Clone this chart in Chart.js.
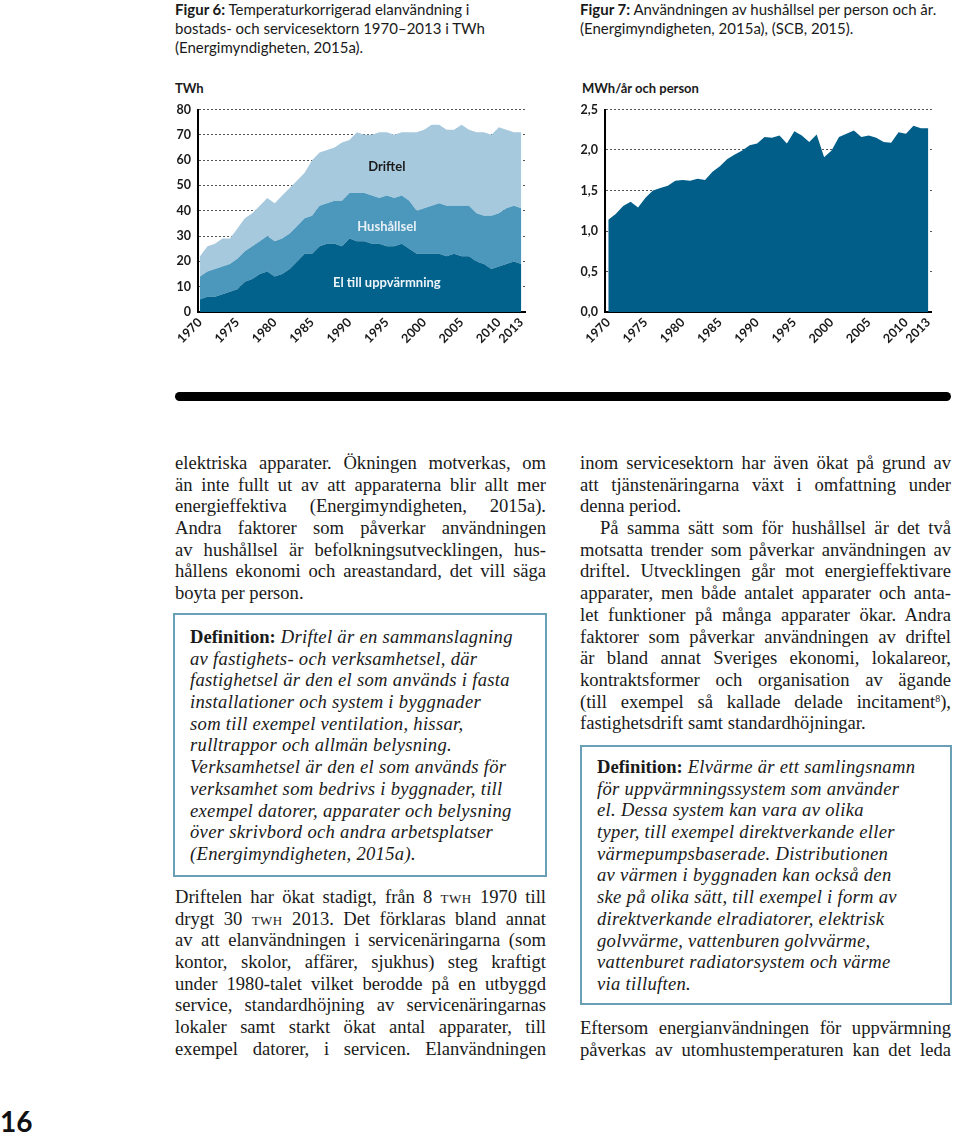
<!DOCTYPE html>
<html><head><meta charset="utf-8">
<script src="https://cdn.jsdelivr.net/npm/chart.js@4.4.1/dist/chart.umd.min.js"></script>
<style>
html,body{margin:0;padding:0;background:#fff;}
body{width:960px;height:1137px;position:relative;overflow:hidden;color:#1a1a1a;}
.abs{position:absolute;}
.cap{font-family:Lato,"Open Sans",sans-serif;font-size:15px;line-height:19px;color:#1a1a1a;}
.cap b{font-weight:700;}
.axt{font-family:Lato,sans-serif;font-weight:700;font-size:13px;color:#1a1a1a;}
.serif{font-family:"Liberation Serif","DejaVu Serif",serif;font-size:18.6px;color:#1a1a1a;}
.ln{height:21.7px;line-height:21.7px;white-space:nowrap;text-align:justify;text-align-last:justify;}
.ln.last{text-align-last:left;}
.ln.rag{text-align:left;text-align-last:left;}
.box{border:2px solid #6aa0b6;box-sizing:border-box;}
.box .ln{font-style:italic;letter-spacing:0.3px;}
.box b{font-style:normal;font-weight:700;letter-spacing:0;}
.sc{font-variant:all-small-caps;letter-spacing:0.5px;}
sup{font-size:10px;line-height:0;vertical-align:6px;}
</style></head>
<body>
<div class="abs cap" style="left:175px;top:0px;width:380px;"><b>Figur 6:</b> Temperaturkorrigerad elanvändning i<br>bostads- och servicesektorn 1970–2013 i TWh<br>(Energimyndigheten, 2015a).</div>
<div class="abs cap" style="left:580px;top:0px;width:380px;"><b>Figur 7:</b> Användningen av hushållsel per person och år.<br>(Energimyndigheten, 2015a), (SCB, 2015).</div>

<div class="abs axt" style="left:175px;top:80px;">TWh</div>
<div class="abs axt" style="left:582px;top:80px;">MWh/år och person</div>

<canvas id="c1" class="abs" width="375" height="265" style="left:160px;top:95px;"></canvas>
<canvas id="c2" class="abs" width="375" height="265" style="left:567px;top:95px;"></canvas>

<div class="abs" style="left:175px;top:392px;width:776px;height:9px;background:#000;border-radius:4.5px;"></div>

<div class="abs serif" style="left:175px;top:452px;width:371px;">
<div class="ln">elektriska apparater. Ökningen motverkas, om</div>
<div class="ln">än inte fullt ut av att apparaterna blir allt mer</div>
<div class="ln">energieffektiva (Energimyndigheten, 2015a).</div>
<div class="ln">Andra faktorer som påverkar användningen</div>
<div class="ln">av hushållsel är befolkningsutvecklingen, hus-</div>
<div class="ln">hållens ekonomi och areastandard, det vill säga</div>
<div class="ln last">boyta per person.</div>
</div>

<div class="abs serif box" style="left:173px;top:613px;width:374px;height:264px;padding:11px 0 0 15px;">
<div class="ln rag"><b>Definition:</b> Driftel är en sammanslagning</div>
<div class="ln rag">av fastighets- och verksamhetsel, där</div>
<div class="ln rag">fastighetsel är den el som används i fasta</div>
<div class="ln rag">installationer och system i byggnader</div>
<div class="ln rag">som till exempel ventilation, hissar,</div>
<div class="ln rag">rulltrappor och allmän belysning.</div>
<div class="ln rag">Verksamhetsel är den el som används för</div>
<div class="ln rag">verksamhet som bedrivs i byggnader, till</div>
<div class="ln rag">exempel datorer, apparater och belysning</div>
<div class="ln rag">över skrivbord och andra arbetsplatser</div>
<div class="ln rag">(Energimyndigheten, 2015a).</div>
</div>

<div class="abs serif" style="left:175px;top:886px;width:371px;">
<div class="ln">Driftelen har ökat stadigt, från 8 <span class="sc">TWh</span> 1970 till</div>
<div class="ln">drygt 30 <span class="sc">TWh</span> 2013. Det förklaras bland annat</div>
<div class="ln">av att elanvändningen i servicenäringarna (som</div>
<div class="ln">kontor, skolor, affärer, sjukhus) steg kraftigt</div>
<div class="ln">under 1980-talet vilket berodde på en utbyggd</div>
<div class="ln">service, standardhöjning av servicenäringarnas</div>
<div class="ln">lokaler samt starkt ökat antal apparater, till</div>
<div class="ln">exempel datorer, i servicen. Elanvändningen</div>
</div>

<div class="abs serif" style="left:580px;top:452px;width:371px;">
<div class="ln">inom servicesektorn har även ökat på grund av</div>
<div class="ln">att tjänstenäringarna växt i omfattning under</div>
<div class="ln last">denna period.</div>
<div class="ln" style="padding-left:20px;">På samma sätt som för hushållsel är det två</div>
<div class="ln">motsatta trender som påverkar användningen av</div>
<div class="ln">driftel. Utvecklingen går mot energieffektivare</div>
<div class="ln">apparater, men både antalet apparater och anta-</div>
<div class="ln">let funktioner på många apparater ökar. Andra</div>
<div class="ln">faktorer som påverkar användningen av driftel</div>
<div class="ln">är bland annat Sveriges ekonomi, lokalareor,</div>
<div class="ln">kontraktsformer och organisation av ägande</div>
<div class="ln">(till exempel så kallade delade incitament<sup>8</sup>),</div>
<div class="ln last">fastighetsdrift samt standardhöjningar.</div>
</div>

<div class="abs serif box" style="left:580px;top:745px;width:372px;height:260px;padding:9px 0 0 15px;">
<div class="ln rag"><b>Definition:</b> Elvärme är ett samlingsnamn</div>
<div class="ln rag">för uppvärmningssystem som använder</div>
<div class="ln rag">el. Dessa system kan vara av olika</div>
<div class="ln rag">typer, till exempel direktverkande eller</div>
<div class="ln rag">värmepumpsbaserade. Distributionen</div>
<div class="ln rag">av värmen i byggnaden kan också den</div>
<div class="ln rag">ske på olika sätt, till exempel i form av</div>
<div class="ln rag">direktverkande elradiatorer, elektrisk</div>
<div class="ln rag">golvvärme, vattenburen golvvärme,</div>
<div class="ln rag">vattenburet radiatorsystem och värme</div>
<div class="ln rag">via tilluften.</div>
</div>

<div class="abs serif" style="left:580px;top:1017px;width:371px;">
<div class="ln">Eftersom energianvändningen för uppvärmning</div>
<div class="ln">påverkas av utomhustemperaturen kan det leda</div>
</div>

<div class="abs" style="left:0px;top:1104px;font-family:Lato,sans-serif;font-weight:700;font-size:28px;color:#111;">16</div>

<script>
// ---- data ----
const years = [1970,1971,1972,1973,1974,1975,1976,1977,1978,1979,
               1980,1981,1982,1983,1984,1985,1986,1987,1988,1989,
               1990,1991,1992,1993,1994,1995,1996,1997,1998,1999,
               2000,2001,2002,2003,2004,2005,2006,2007,2008,2009,
               2010,2011,2012,2013];
const xTickYears = [1970,1975,1980,1985,1990,1995,2000,2005,2010,2013];

// Figur 6, TWh (stacked)
const elTillUppvarmning = [5,6,6,7,8,9,12,13,15,16,
                           14,15,17,20,23,23,26,27,27,26,
                           29,28,28,27,27,26,26,27,25,23,
                           23,23,23,22,23,22,22,20,19,17,
                           18,19,20,19];
const hushallsel = [9,10,11,11,11,12,12,13,13,14,
                    14,14,14,14,14,15,16,16,17,18,
                    18,19,19,19,18,20,19,19,19,17,
                    18,19,20,20,19,20,20,19,19,21,
                    21,22,22,22];
const driftel = [8,10,10,11,10,12,13,13,14,15,
                 15,17,18,18,18,22,21,21,21,23,
                 21,24,23,24,26,25,25,25,27,31,
                 31,32,31,30,30,32,30,32,33,32,
                 34,31,29,30];

// Figur 7, MWh/år och person
const perPerson = [1.14,1.21,1.31,1.36,1.29,1.41,1.50,1.53,1.56,1.62,
                   1.63,1.62,1.645,1.63,1.73,1.80,1.89,1.945,1.995,2.06,
                   2.08,2.16,2.15,2.18,2.08,2.23,2.18,2.10,2.19,1.91,
                   1.995,2.16,2.20,2.24,2.16,2.18,2.15,2.10,2.09,2.22,
                   2.20,2.30,2.27,2.27];

const seriesNames = ['El till uppvärmning','Hushållsel','Driftel'];
const areaLabels = [
  {text:'Driftel', year:1995, value:57.3, color:'#1a1a1a'},
  {text:'Hushållsel', year:1995, value:33.7, color:'#e8f1f7'},
  {text:'El till uppvärmning', year:1995, value:11.5, color:'#eef5f9'}
];

const toXY = arr => arr.map((v,i)=>({x:years[i], y:v}));
const tickFont = {family:'Lato, sans-serif', weight:'bold', size:12.5};

const labelPlugin = {
  id:'areaLabels',
  afterDatasetsDraw(chart, args, opts){
    if(!opts.items) return;
    const {ctx, scales:{x,y}} = chart;
    ctx.save();
    ctx.font = 'bold 13px Lato, sans-serif';
    ctx.textAlign = 'center';
    ctx.textBaseline = 'middle';
    opts.items.forEach(it=>{
      ctx.fillStyle = it.color;
      ctx.fillText(it.text, x.getPixelForValue(it.year), y.getPixelForValue(it.value));
    });
    ctx.restore();
  }
};

function xScale(min,max){
  return {
    type:'linear', min:min, max:max,
    afterBuildTicks(s){ s.ticks = xTickYears.map(v=>({value:v})); },
    afterFit(s){ s.height = 48; },
    ticks:{font:tickFont, color:'#1a1a1a', minRotation:45, maxRotation:45, padding:3,
           callback:v=>String(v)},
    grid:{display:false, drawTicks:false},
    border:{display:true, color:'#000', width:2}
  };
}
function yScale(max, step, fmt){
  return {
    min:0, max:max, stacked:true,
    afterFit(s){ s.width = 38; },
    ticks:{stepSize:step, font:tickFont, color:'#1a1a1a', padding:7, callback:fmt},
    grid:{color:'#555', lineWidth:1, drawTicks:false},
    border:{display:true, color:'#000', width:2, dash:[2,2]}
  };
}

const common = {
  responsive:false, animation:false, devicePixelRatio:1,
  plugins:{legend:{display:false}, tooltip:{enabled:false}},
  elements:{point:{radius:0}, line:{tension:0, borderWidth:0}}
};

new Chart(document.getElementById('c1'), {
  type:'line',
  data:{datasets:[
    {label:seriesNames[0], data:toXY(elTillUppvarmning), backgroundColor:'#03628c', borderColor:'#03628c', fill:'origin', borderWidth:0},
    {label:seriesNames[1], data:toXY(hushallsel), backgroundColor:'#4c97bc', borderColor:'#4c97bc', fill:'-1', borderWidth:0},
    {label:seriesNames[2], data:toXY(driftel), backgroundColor:'#a7c9de', borderColor:'#a7c9de', fill:'-1', borderWidth:0}
  ]},
  options:Object.assign({}, common, {
    layout:{padding:{top:13, right:7, left:0, bottom:0}},
    scales:{x:xScale(1969.73, 2013.53), y:yScale(80, 10, v=>String(v))},
    plugins:{legend:{display:false}, tooltip:{enabled:false}, areaLabels:{items:areaLabels}}
  }),
  plugins:[labelPlugin]
});

new Chart(document.getElementById('c2'), {
  type:'line',
  data:{datasets:[
    {label:'Hushållsel per person', data:toXY(perPerson), backgroundColor:'#005e89', borderColor:'#005e89', fill:'origin', borderWidth:0}
  ]},
  options:Object.assign({}, common, {
    layout:{padding:{top:13, right:6, left:0, bottom:0}},
    scales:{x:xScale(1969.56, 2013.49), y:yScale(2.5, 0.5, v=>v.toFixed(1).replace('.',','))}
  })
});
</script>
</body></html>
